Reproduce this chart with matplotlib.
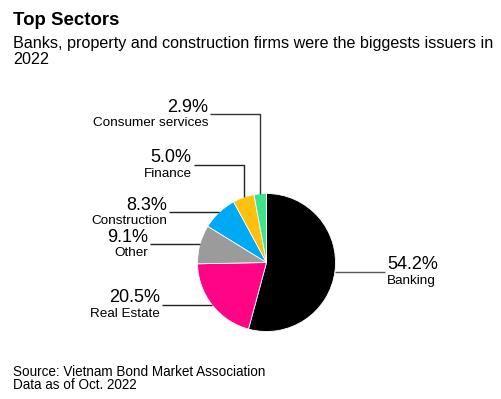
import numpy as np
import matplotlib
matplotlib.use("Agg")
import matplotlib.pyplot as plt

plt.rcParams['font.family'] = ['Liberation Sans', 'DejaVu Sans']

# ---- data ----
categories = ["Banking", "Real Estate", "Other", "Construction", "Finance", "Consumer services"]
values = [54.2, 20.5, 9.1, 8.3, 5.0, 2.9]
pct_labels = ["54.2%", "20.5%", "9.1%", "8.3%", "5.0%", "2.9%"]
colors = ["#000000", "#ff0586", "#9b9b9b", "#00a9f4", "#fcc10f", "#3ee38e"]

W, H = 502, 399
fig = plt.figure(figsize=(W / 100, H / 100), dpi=100)
ax = fig.add_axes([0, 0, 1, 1])

def Y(y):
    return H - y

cx, cy, R = 266.5, 262.5, 69.0
wedges, _ = ax.pie(values, colors=colors, startangle=90, counterclock=False,
                   center=(cx, Y(cy)), radius=R,
                   wedgeprops=dict(edgecolor="white", linewidth=0.6))
ax.set_xlim(0, W)
ax.set_ylim(0, H)
ax.set_aspect('auto')
ax.axis('off')

# label layout: side, elbow y (None => horizontal at anchor)
elbow_y = [None, None, None, None, 165, 114]
side = [1, -1, -1, -1, -1, -1]
seg = 50
line_color = ["#555555", "#222222", "#222222", "#222222", "#222222", "#333333"]

for i, w in enumerate(wedges):
    ang = np.deg2rad((w.theta1 + w.theta2) / 2)
    ax_x = cx + R * np.cos(ang)
    ax_y = Y(cy) + R * np.sin(ang)
    if elbow_y[i] is None:
        ly = ax_y
        xs = [ax_x, ax_x + side[i] * seg]
        ys = [ly, ly]
    else:
        ly = Y(elbow_y[i])
        xs = [ax_x, ax_x, ax_x + side[i] * seg]
        ys = [ax_y, ly, ly]
    ax.plot(xs, ys, color=line_color[i], lw=1.0, solid_capstyle='butt')
    tx = xs[-1] + side[i] * 2
    ha = 'left' if side[i] > 0 else 'right'
    ax.text(tx, ly + 2.5, pct_labels[i], fontsize=13, ha=ha, va='baseline', color='black')
    ax.text(tx, ly - 3, categories[i], fontsize=9.7, ha=ha, va='top', color='black')

fig.text(13 / W, 1 - 25 / H, "Top Sectors", fontsize=13.4, fontweight='bold', ha='left', va='baseline')
fig.text(13 / W, 1 - 47.7 / H, "Banks, property and construction firms were the biggests issuers in",
         fontsize=11.6, ha='left', va='baseline')
fig.text(13 / W, 1 - 64.3 / H, "2022", fontsize=11.6, ha='left', va='baseline')
fig.text(13 / W, 1 - 389.3 / H, "Source: Vietnam Bond Market Association\nData as of Oct. 2022",
         fontsize=9.75, ha='left', va='baseline', linespacing=0.95)

fig.savefig("out.png", dpi=100, facecolor="white")
